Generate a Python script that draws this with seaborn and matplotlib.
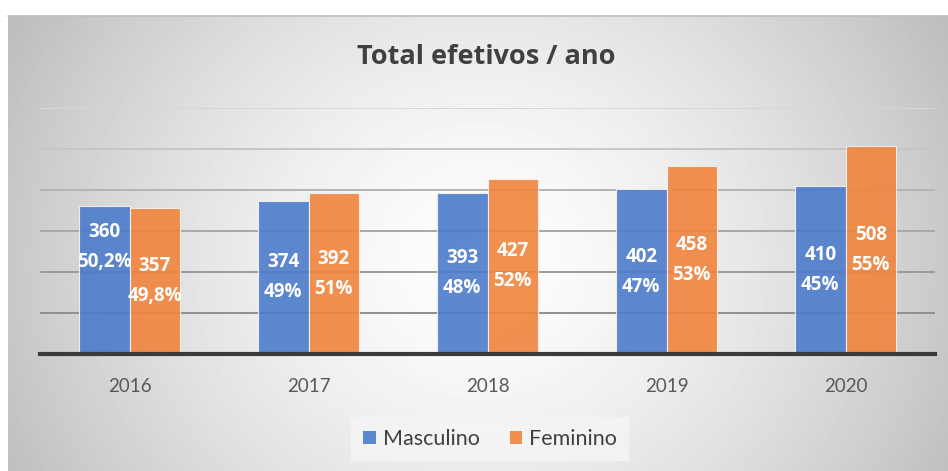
import numpy as np
import pandas as pd
import matplotlib
matplotlib.use("Agg")
import matplotlib.pyplot as plt
import seaborn as sns
from matplotlib.patches import Patch

anos = ["2016", "2017", "2018", "2019", "2020"]
masculino = [360, 374, 393, 402, 410]
feminino = [357, 392, 427, 458, 508]
pct_masc = ["50,2%", "49%", "48%", "47%", "45%"]
pct_fem = ["49,8%", "51%", "52%", "53%", "55%"]
series = ["Masculino", "Feminino"]

df = pd.DataFrame({
    "ano": anos * 2,
    "valor": masculino + feminino,
    "sexo": [series[0]] * len(anos) + [series[1]] * len(anos),
})

sns.set_theme(style="white")
plt.rcParams["font.family"] = ["Lato", "DejaVu Sans"]
BOLD = ["Open Sans", "DejaVu Sans"]

W, H = 948, 471
fig = plt.figure(figsize=(W / 100, H / 100), dpi=100)
fig.patch.set_facecolor("white")

# background gradient panel
x0, y0 = 8, 16
bg = fig.add_axes([x0 / W, 0, 1 - x0 / W, (H - y0) / H], zorder=0)
gx = np.arange(x0, W)
gy = np.arange(y0, H)
XX, YY = np.meshgrid(gx, gy)
cx, cy = 480, 260
r = np.sqrt(((XX - cx) / 470.0) ** 2 + ((YY - cy) / 430.0) ** 2)
val = np.clip(0.995 - 0.21 * r ** 1.5, 0, 1)
bg.imshow(val, cmap="gray", vmin=0, vmax=1, aspect="auto", interpolation="bilinear")
bg.set_axis_off()
fig.add_artist(plt.Line2D([x0 / W, 1], [1 - y0 / H, 1 - y0 / H], color="#c0c0c0", lw=1.2, zorder=1))

ax = fig.add_axes([40 / W, 1 - 354 / H, (935 - 40) / W, (354 - 108) / H], zorder=2)
ax.set_facecolor("none")

blue = "#4C7BCB"
orange = "#F0843C"
sns.barplot(data=df, x="ano", y="valor", hue="sexo", palette=[blue, orange],
            saturation=1, width=0.565, ax=ax, legend=False, zorder=3, alpha=0.9,
            edgecolor="#f4f4f4", linewidth=0.8)

grid_cols = {100: "#8f8f8f", 200: "#9a9a9a", 300: "#a8a8a8", 400: "#b4b4b4", 500: "#c6c6c6", 600: "#d6d6d6"}
for v, c in grid_cols.items():
    ax.axhline(v, color=c, lw=1.4, zorder=1)

ax.set_ylim(0, 600)
ax.set_xlim(-0.5, 4.5)
ax.set_yticks([])
ax.set_xlabel("")
ax.set_ylabel("")
for s in ["top", "right", "left"]:
    ax.spines[s].set_visible(False)
ax.spines["bottom"].set_color("#3a3a3a")
ax.spines["bottom"].set_linewidth(3)
ax.spines["bottom"].set_zorder(4)
ax.tick_params(axis="x", length=0, pad=17, labelsize=13.5, labelcolor="#595959")

offsets_m = [80, 0, 0, 0, 0]
for ci, (vals, pcts, offs) in enumerate([(masculino, pct_masc, offsets_m), (feminino, pct_fem, [0] * 5)]):
    cont = ax.containers[ci]
    for bar, v, p, o in zip(cont, vals, pcts, offs):
        xc = bar.get_x() + bar.get_width() / 2
        yc = v / 2 + o
        ax.annotate(str(v), (xc, yc), xytext=(0, 10.8), textcoords="offset points",
                    ha="center", va="center", color="white", fontsize=13.5, fontweight="bold",
                    family=BOLD, zorder=5)
        ax.annotate(p, (xc, yc), xytext=(0, -10.8), textcoords="offset points",
                    ha="center", va="center", color="white", fontsize=13.5, fontweight="bold",
                    family=BOLD, zorder=5)

fig.text(486 / W, 1 - 57 / H, "Total efetivos / ano", ha="center", va="center",
         fontsize=19.5, fontweight="bold", color="#404040", family=BOLD, zorder=6)

handles = [Patch(facecolor=blue, alpha=0.9, edgecolor="none"), Patch(facecolor=orange, alpha=0.9, edgecolor="none")]
leg = fig.legend(handles, series, loc="center", bbox_to_anchor=(490 / W, 1 - 439 / H),
                 ncol=2, frameon=True, fontsize=15.5, handlelength=0.6, handleheight=0.6,
                 handletextpad=0.3, columnspacing=1.4, borderpad=0.55, fancybox=False)
leg.get_frame().set_facecolor("#f5f5f5")
leg.get_frame().set_edgecolor("none")
leg.set_zorder(6)
for t in leg.get_texts():
    t.set_color("#404040")

fig.savefig("out.png", dpi=100)
